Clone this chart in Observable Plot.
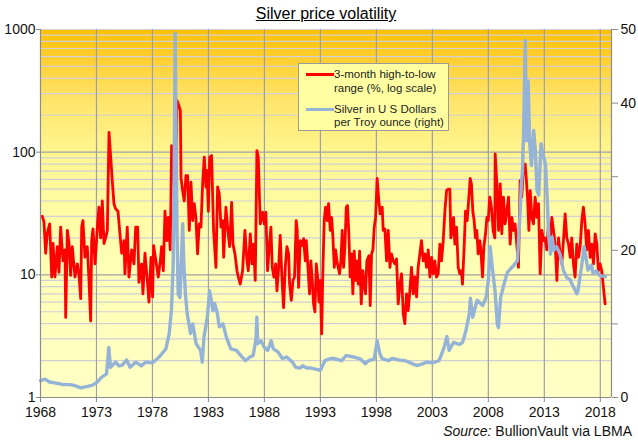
<!DOCTYPE html>
<html><head><meta charset="utf-8">
<script src="https://cdn.jsdelivr.net/npm/d3@7"></script>
<script src="https://cdn.jsdelivr.net/npm/@observablehq/plot@0.6"></script>
<style>
body{margin:0;background:#fff;font-family:"Liberation Sans",Arial,sans-serif;}
#wrap{position:relative;width:638px;height:441px;overflow:hidden;}
#title{position:absolute;left:0;width:652px;top:5px;text-align:center;font-size:16px;text-decoration:underline;color:#000;line-height:18px;}
#source{position:absolute;right:6px;top:423px;font-size:14px;color:#111;line-height:17px;}
#legend{position:absolute;left:298px;top:63px;width:151px;height:68px;background:#ffffa2;border:1px solid #9a9a9a;box-sizing:border-box;font-size:11.5px;color:#222;}
#legend .t{position:absolute;left:35px;line-height:14px;white-space:nowrap;}
#legend .sw{position:absolute;left:7px;width:28px;height:3px;}
</style>
</head><body>
<div id="wrap">
<div id="chart"></div>
<div id="title">Silver price volatility</div>
<div id="legend">
  <div class="sw" style="top:9px;background:#ff0000"></div>
  <div class="t" style="top:3px">3-month high-to-low</div>
  <div class="t" style="top:17px">range (%, log scale)</div>
  <div class="sw" style="top:44px;background:#95b3d7"></div>
  <div class="t" style="top:38px">Silver in U S Dollars</div>
  <div class="t" style="top:51px">per Troy ounce (right)</div>
</div>
<div id="source"><i>Source:</i> BullionVault via LBMA</div>
</div>
<script>
const xTicks = [1968,1973,1978,1983,1988,1993,1998,2003,2008,2013,2018];
const leftTicks = [1,10,100,1000];
const rightTicks = [0,10,20,30,40,50];

// 3-month high-to-low range (%), left log axis
const volYears = [
1968.16,1968.31,1968.46,1968.61,1968.82,1969.0,1969.12,1969.29,1969.5,1969.65,
1969.8,1970.01,1970.19,1970.25,1970.4,1970.55,1970.69,1970.84,1971.08,1971.29,
1971.44,1971.59,1971.68,1971.79,1971.97,1972.18,1972.33,1972.48,1972.57,1972.69,
1972.87,1972.99,1973.1,1973.22,1973.37,1973.52,1973.67,1973.82,1973.97,1974.12,
1974.27,1974.41,1974.56,1974.71,1974.92,1975.07,1975.25,1975.46,1975.54,1975.75,
1975.9,1976.14,1976.35,1976.5,1976.68,1976.79,1977.03,1977.15,1977.33,1977.54,
1977.69,
1977.87,1978.01,1978.1,1978.31,1978.52,1978.7,1978.82,1978.97,1979.12,1979.29,
1979.41,1979.59,1979.71,1979.89,1980.01,1980.19,1980.31,1980.49,1980.55,1980.69,
1980.84,1980.99,1981.14,1981.29,1981.44,1981.59,1981.73,1981.88,1982.03,1982.18,
1982.33,1982.48,1982.63,1982.78,1982.87,1982.99,1983.11,1983.28,1983.46,1983.67,
1983.82,1983.97,1984.12,1984.27,1984.36,1984.56,1984.71,1984.89,1985.07,1985.19,
1985.37,1985.55,1985.67,1985.84,1986.05,1986.26,1986.44,1986.56,1986.74,1986.89,
1987.03,1987.18,1987.33,1987.45,1987.63,1987.84,1987.99,1988.13,1988.28,1988.43,
1988.58,
1988.70,1988.85,1989.0,1989.12,1989.27,1989.41,1989.56,1989.71,1989.86,1990.01,
1990.16,1990.25,1990.4,1990.55,1990.69,1990.84,1990.93,1991.05,1991.2,1991.35,
1991.5,1991.65,1991.74,1991.89,1992.03,1992.15,1992.27,1992.39,1992.51,1992.63,
1992.75,1992.87,1992.99,1993.11,1993.22,1993.34,1993.46,1993.61,1993.73,1993.88,
1994.0,1994.12,1994.24,1994.36,1994.47,1994.59,1994.71,1994.83,1994.95,1995.07,
1995.19,1995.31,1995.42,1995.54,1995.66,1995.78,1995.90,1996.02,1996.14,1996.26,
1996.38,1996.5,1996.65,1996.79,1996.91,1997.03,1997.15,1997.33,1997.45,1997.57,
1997.69,1997.81,1997.93,1998.07,1998.22,1998.34,1998.52,
1998.61,1998.76,1998.91,1999.06,1999.21,1999.35,1999.5,1999.65,1999.8,1999.95,
2000.1,2000.25,2000.4,2000.54,2000.69,2000.84,2000.99,2001.14,2001.29,2001.44,
2001.59,2001.73,2001.88,2002.03,2002.18,2002.33,2002.48,2002.63,2002.78,2002.93,
2003.07,2003.22,2003.37,2003.52,2003.67,2003.82,2003.97,2004.12,2004.27,2004.41,
2004.56,2004.65,2004.77,2004.89,2005.01,2005.16,2005.31,2005.45,2005.6,2005.69,
2005.84,2005.96,2006.11,2006.26,2006.38,2006.49,2006.61,2006.73,2006.85,2006.97,
2007.09,2007.24,2007.33,2007.48,2007.6,2007.75,2007.87,2007.99,2008.13,2008.28,
2008.43,2008.58,
2008.61,2008.76,2008.91,2009.06,2009.2,2009.35,2009.5,2009.65,2009.8,2009.95,
2010.1,2010.25,2010.39,2010.54,2010.69,2010.84,2010.99,2011.14,2011.29,2011.38,
2011.5,2011.62,2011.74,2011.88,2012.03,2012.18,2012.33,2012.48,2012.63,2012.78,
2012.93,2013.07,2013.22,2013.37,2013.52,2013.67,2013.82,2013.97,2014.12,2014.27,
2014.41,2014.56,2014.71,2014.86,2015.01,2015.16,2015.31,2015.45,2015.6,2015.75,
2015.9,2016.05,2016.2,2016.35,2016.49,2016.64,2016.79,2016.94,2017.09,2017.24,
2017.39,2017.54,2017.69,2017.83,2017.98,2018.13,2018.28,2018.43
];
const volValues = [
30,27,15,22,26,9.6,18,9.6,17,10.5,
24.5,13,16,4.5,23,18,9.9,17,9.6,12.3,
9.9,6.4,24.5,27.7,13.9,17,9,4.2,19,23.7,
12.3,18,26,35.6,20,40,18,20,23,145,
91,58.5,38,34.5,33,23,15,19,10.2,24.5,
9.6,16,12.3,24.5,24.5,8.7,12.3,7,15,9,
6,
13.9,6.6,17.3,13,9.6,13,17,10.8,33,19,
29.4,16,113,80,26,264,247,218,62,49,
40,64.5,64.5,23,57,27.7,38,29.4,14.8,26,
24.5,55,91,52,71,33,91,94,23,11.5,
52,45.7,24.5,27.7,13.9,35.6,24.5,17,39,17.8,
14.8,10.8,9.6,8.4,10.8,23,13,10.8,21.6,12.3,
17.8,9,103,91,26,32.4,26,32.4,10.8,17,
24.5,
11.5,9.6,12.3,7.4,11.5,21,9.6,5.4,11.5,17,
14.8,8.4,6.2,9,9.6,27.7,23,7.9,19,17.3,
19.7,13,19,11.5,7,13,9,5.8,5,12.3,
9.6,6,9,3.3,10.8,27.7,35.6,27.7,38,23,
29.4,20,11.5,16,13,11.5,10.2,13,23,11.5,
17,35.6,36.7,21.6,9.6,14.8,7,15.6,9,13,
8.4,15.6,5.8,10.8,8.4,7,13,14.3,5.6,14.8,
16,24.5,29.4,61,40,31.4,35.6,
23,23.7,13,23,11.5,14.8,13,12.3,13.5,5.8,
8.4,10.2,4.8,4.0,7,5.1,7.4,11.5,7,9.6,
6.6,11.5,14.8,19,13,14.8,11.5,16,9.6,13.9,
10.2,13,9.6,10.2,17.8,13,19,33,48.6,50,
50,20,23,29.4,17.8,24.5,11.5,10.2,10.8,8.4,
17,33,27.7,43,61,55,33,27.7,20,23,
14.8,19,16,9.6,17,21.6,29.4,27.7,43,35.6,
23,20,
97,55,23,55,21.6,43,26,33,43,17.8,
29.4,23,26,17.8,11.5,58.5,43,80,80,62,
43,23,48.6,29.4,26,43,29.4,38,10.2,23,
19,20,16,26,17.8,29.4,23,17.8,9,20,
14.8,12.3,19,31.4,20,17.8,13.9,20,12.3,9.6,
17.8,13.9,17,27.7,35.6,26,16,23,13.9,17.8,
12.3,21.6,17.8,10.8,12.3,10.8,7.9,5.8
];

// Silver price, US$ per troy ounce, right linear axis
const priceYears = [
1968.0,1968.4,1968.8,1969.4,1970.0,1970.6,1971.0,1971.6,1972.2,1972.6,
1973.0,1973.5,1973.9,1974.1,1974.25,1974.7,1975.0,1975.3,1975.7,1976.0,
1976.5,1977.0,1977.4,1978.0,1978.6,1979.2,1979.5,1979.7,1979.85,1979.95,
1980.03,1980.1,1980.2,1980.3,1980.45,1980.55,1980.7,1980.8,1980.95,1981.1,
1981.4,1981.6,1981.9,1982.3,1982.45,1982.6,1982.9,1983.1,1983.25,1983.4,
1983.55,1983.8,1983.97,1984.3,1984.6,1985.0,1985.5,1985.9,1986.3,1986.7,
1987.0,1987.25,1987.32,1987.4,1987.7,1988.0,1988.3,1988.6,1988.8,1989.2,
1989.6,1990.0,1990.5,1990.8,1991.2,1991.4,1991.8,1992.2,1992.7,1993.0,
1993.4,1993.9,1994.2,1994.9,1995.3,1996.0,1996.6,1997.0,1997.3,1997.8,
1998.07,1998.3,1998.5,1999.1,1999.4,2000.0,2000.6,2001.2,2001.6,2002.0,
2002.5,2003.0,2003.6,2004.05,2004.3,2004.5,2004.9,2005.4,2005.7,2006.0,
2006.3,2006.4,2006.6,2007.0,2007.5,2007.8,2008.0,2008.16,2008.4,2008.6,
2008.8,2008.9,2009.1,2009.4,2009.7,2010.0,2010.3,2010.6,2010.8,2010.95,
2011.05,2011.15,2011.3,2011.4,2011.55,2011.7,2011.85,2012.05,2012.2,2012.35,
2012.5,2012.7,2012.9,2013.1,2013.25,2013.4,2013.55,2013.7,2013.85,2014.1,
2014.4,2014.7,2015.0,2015.3,2015.6,2015.9,2016.0,2016.3,2016.55,2016.9,
2017.2,2017.35,2017.65,2017.9,2018.2,2018.45
];
const priceValues = [
2.3,2.5,2.1,1.95,1.77,1.75,1.65,1.3,1.5,1.65,
2.0,2.8,3.2,6.8,4.1,4.8,4.3,4.4,5.1,4.1,
4.8,4.3,4.8,4.7,5.5,6.6,8.7,12,18,32,
49.5,36,22,14,13.6,17.3,23.6,18.2,14,11.4,
8.7,10,7.3,6.4,4.8,8.2,10.9,14.5,13.2,11.8,
12.8,11.4,9.6,10,8.2,6.6,6.4,5.7,5.0,5.5,
5.7,8,10.9,7.3,7.7,6.8,6.4,7.7,6.6,6.2,
5.3,5.5,4.8,4.1,4.0,4.3,4.0,4.0,3.8,3.7,
5.0,5.3,5.3,5.0,5.7,5.5,5.2,4.6,5.0,5.2,
7.7,6.0,5.3,5.0,5.3,5.1,5.0,4.6,4.35,4.5,
4.8,4.7,5.0,6.8,8.3,6.4,7.5,7.2,7.5,9.1,
11.4,13.5,10.9,13.2,12.5,13.6,15.9,20.5,17,14.5,
10,9.5,13.6,15.4,17,17.5,18,18.6,24,29,
30.8,36.3,48.5,34.9,43,34.5,31.5,36.3,33.6,28.1,
27.5,34.5,33,31.7,27.2,21.8,19.5,21.8,20,20.5,
19.5,17.3,16.3,16.0,15,14.1,14.5,17.5,20.5,17.3,
18,16.9,17.2,16.6,16.5,16.4
];

const toLog = p => Math.pow(10, p * 3 / 50);
const minorGrid = [];
for (const k of [1, 10, 100]) for (let m = 2; m <= 9; m++) minorGrid.push(m * k);

const vol = volYears.map((t, i) => ({t, v: volValues[i]}));
const price = priceYears.map((t, i) => ({t, p: priceValues[i]}));

const plot = Plot.plot({
  width: 638, height: 441,
  marginTop: 29, marginBottom: 44, marginLeft: 40, marginRight: 27,
  x: {domain: [1968, 2019], label: null},
  y: {type: "log", domain: [1, 1000], label: null},
  style: {fontFamily: "'Liberation Sans', Arial, sans-serif", fontSize: "14px", color: "#111", background: "transparent", overflow: "visible"},
  marks: [
    Plot.frame({fill: "url(#bg)", stroke: null}),
    Plot.ruleY(minorGrid.concat([1000]), {stroke: "#d0d0d6", strokeWidth: 1.2}),
    Plot.ruleY([10, 100], {stroke: "#a0a0a0", strokeWidth: 1.2}),
    Plot.ruleX(xTicks.slice(1), {stroke: "#a0a0a0", strokeWidth: 1.2}),
    Plot.line(vol, {x: "t", y: "v", stroke: "#ff0000", strokeWidth: 2.8}),
    Plot.line(price, {x: "t", y: d => toLog(d.p), stroke: "#95b3d7", strokeWidth: 3.4}),
    Plot.ruleX([1968], {stroke: "#8c8c8c", strokeWidth: 1.2}),
    Plot.ruleX([2019], {stroke: "#8c8c8c", strokeWidth: 1.2}),
    Plot.ruleY([1], {stroke: "#8c8c8c", strokeWidth: 1.2}),
    Plot.axisX(xTicks, {tickFormat: d => String(d), tickSize: 5, tickPadding: 5, stroke: "#8c8c8c", fill: "#111"}),
    Plot.axisY(leftTicks, {anchor: "left", tickFormat: d => String(d), tickSize: 4, tickPadding: 1, stroke: "#8c8c8c", fill: "#111"}),
    Plot.axisY(rightTicks.map(toLog), {anchor: "right", tickFormat: d => String(Math.round(Math.log10(d) * 50 / 3)), tickSize: 6, tickPadding: 3, stroke: "#8c8c8c", fill: "#111"})
  ]
});

const ns = "http://www.w3.org/2000/svg";
const defs = document.createElementNS(ns, "defs");
const lg = document.createElementNS(ns, "linearGradient");
lg.setAttribute("id", "bg");
lg.setAttribute("x1", "0"); lg.setAttribute("y1", "0");
lg.setAttribute("x2", "0"); lg.setAttribute("y2", "1");
[[0, "#ffc000"], [0.08, "#ffcf30"], [0.19, "#ffe46a"], [0.33, "#fff58e"], [0.46, "#fffaa0"], [0.62, "#ffffb4"], [1, "#ffffc6"]].forEach(([o, c]) => {
  const s = document.createElementNS(ns, "stop");
  s.setAttribute("offset", o);
  s.setAttribute("stop-color", c);
  lg.appendChild(s);
});
defs.appendChild(lg);
plot.insertBefore(defs, plot.firstChild);
document.getElementById("chart").appendChild(plot);
</script>
</body></html>
